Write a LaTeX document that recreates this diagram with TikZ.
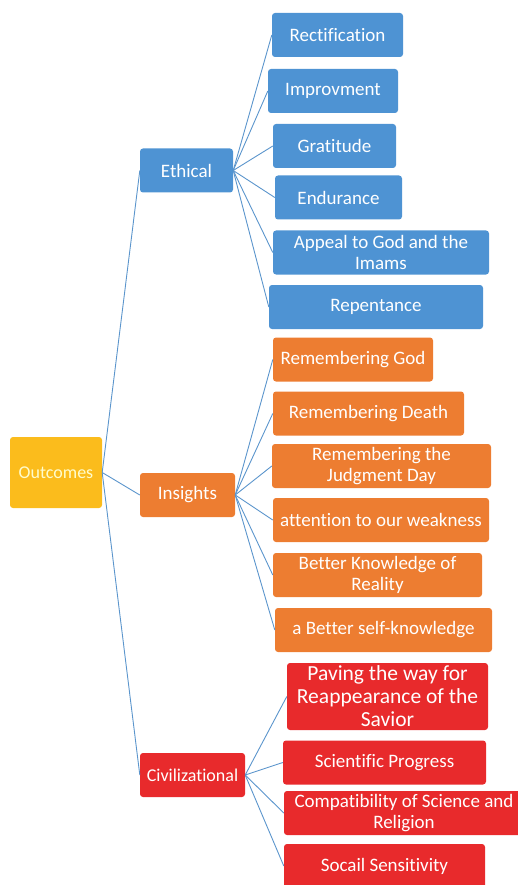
\documentclass[tikz,border=0pt]{standalone}
\usepackage{fontspec}
\setmainfont[Ligatures=NoCommon]{Carlito}
\usepackage{xcolor}
\usepackage{tikz}
\usetikzlibrary{positioning}

\definecolor{boxblue}{HTML}{4E93D3}
\definecolor{boxorange}{HTML}{ED7D31}
\definecolor{boxred}{HTML}{E82A2C}
\definecolor{boxgold}{HTML}{FBBC1C}
\definecolor{linkblue}{HTML}{5B95CC}

\begin{document}
\begin{tikzpicture}[
  x=1pt,y=-1pt,
  every node/.style={font=\fontsize{19}{21}\selectfont,align=center,text=white},
  box/.style  ={rectangle,rounded corners=3pt,minimum height=44pt,inner sep=2pt},
  rootbox/.style={box,fill=boxgold,minimum width=92pt,minimum height=71pt,
                  text=yellow!20,font=\fontsize{18}{20}\selectfont},
  ethbox/.style ={box,fill=boxblue},
  insbox/.style ={box,fill=boxorange},
  civbox/.style ={box,fill=boxred},
  link/.style   ={draw=linkblue,line width=0.9pt},
]
\useasboundingbox (0,0) rectangle (518,885);

\node[rootbox] at (56,472.5)  (outcomes) {Outcomes};

\node[ethbox,minimum width=93pt]  at (186.5,170.5) (ethical)  {Ethical};
\node[insbox,minimum width=95pt]  at (187.5,495)   (insights) {Insights};
\node[civbox,minimum width=105pt,font=\fontsize{18}{20}\selectfont]
                                  at (192.5,775)   (civil)    {Civilizational};

% ethical
\node[ethbox,minimum width=131pt] at (337.5,35)    (rectif)   {Rectification};
\node[ethbox,minimum width=130pt] at (333,91)      (improv)   {Improvment};
\node[ethbox,minimum width=123pt] at (334.5,146)   (gratit)   {Gratitude};
\node[ethbox,minimum width=127pt] at (338.5,197.5) (endur)    {Endurance};
\node[ethbox,minimum width=216pt] at (381,252.5)   (appeal)   {Appeal to God and the\\Imams};
\node[ethbox,minimum width=214pt] at (376,307)     (repent)   {Repentance};

% insights
\node[insbox,minimum width=160pt] at (353,359.5)   (remgod)   {Remembering God};
\node[insbox,minimum width=191pt] at (368.5,413.5) (remdeath) {Remembering Death};
\node[insbox,minimum width=219pt] at (381.5,466)   (remday)   {Remembering the\\Judgment Day};
\node[insbox,minimum width=216pt] at (381,520)     (weak)     {attention to our weakness};
\node[insbox,minimum width=209pt] at (377.5,575)   (reality)  {Better Knowledge of\\Reality};
\node[insbox,minimum width=217pt] at (383.5,630)   (selfkn)   {a Better self-knowledge};

% civilizational
\node[civbox,minimum width=201pt,minimum height=67pt,
      font=\fontsize{21.5}{23}\selectfont]
                                  at (387.5,696.5) (paving)   {Paving the way for\\Reappearance of the\\Savior};
\node[civbox,minimum width=203pt] at (384.5,762.5) (science)  {Scientific Progress};
\node[civbox,minimum width=240pt] at (404,813)     (compat)   {Compatibility of Science and\\Religion};
\node[civbox,minimum width=201pt] at (384.5,866)   (social)   {Socail Sensitivity};

\foreach \k in {ethical,insights,civil}
  \draw[link] (outcomes.east) -- (\k.west);
\foreach \k in {rectif,improv,gratit,endur,appeal,repent}
  \draw[link] (ethical.east) -- (\k.west);
\foreach \k in {remgod,remdeath,remday,weak,reality,selfkn}
  \draw[link] (insights.east) -- (\k.west);
\foreach \k in {paving,science,compat,social}
  \draw[link] (civil.east) -- (\k.west);
\end{tikzpicture}
\end{document}
